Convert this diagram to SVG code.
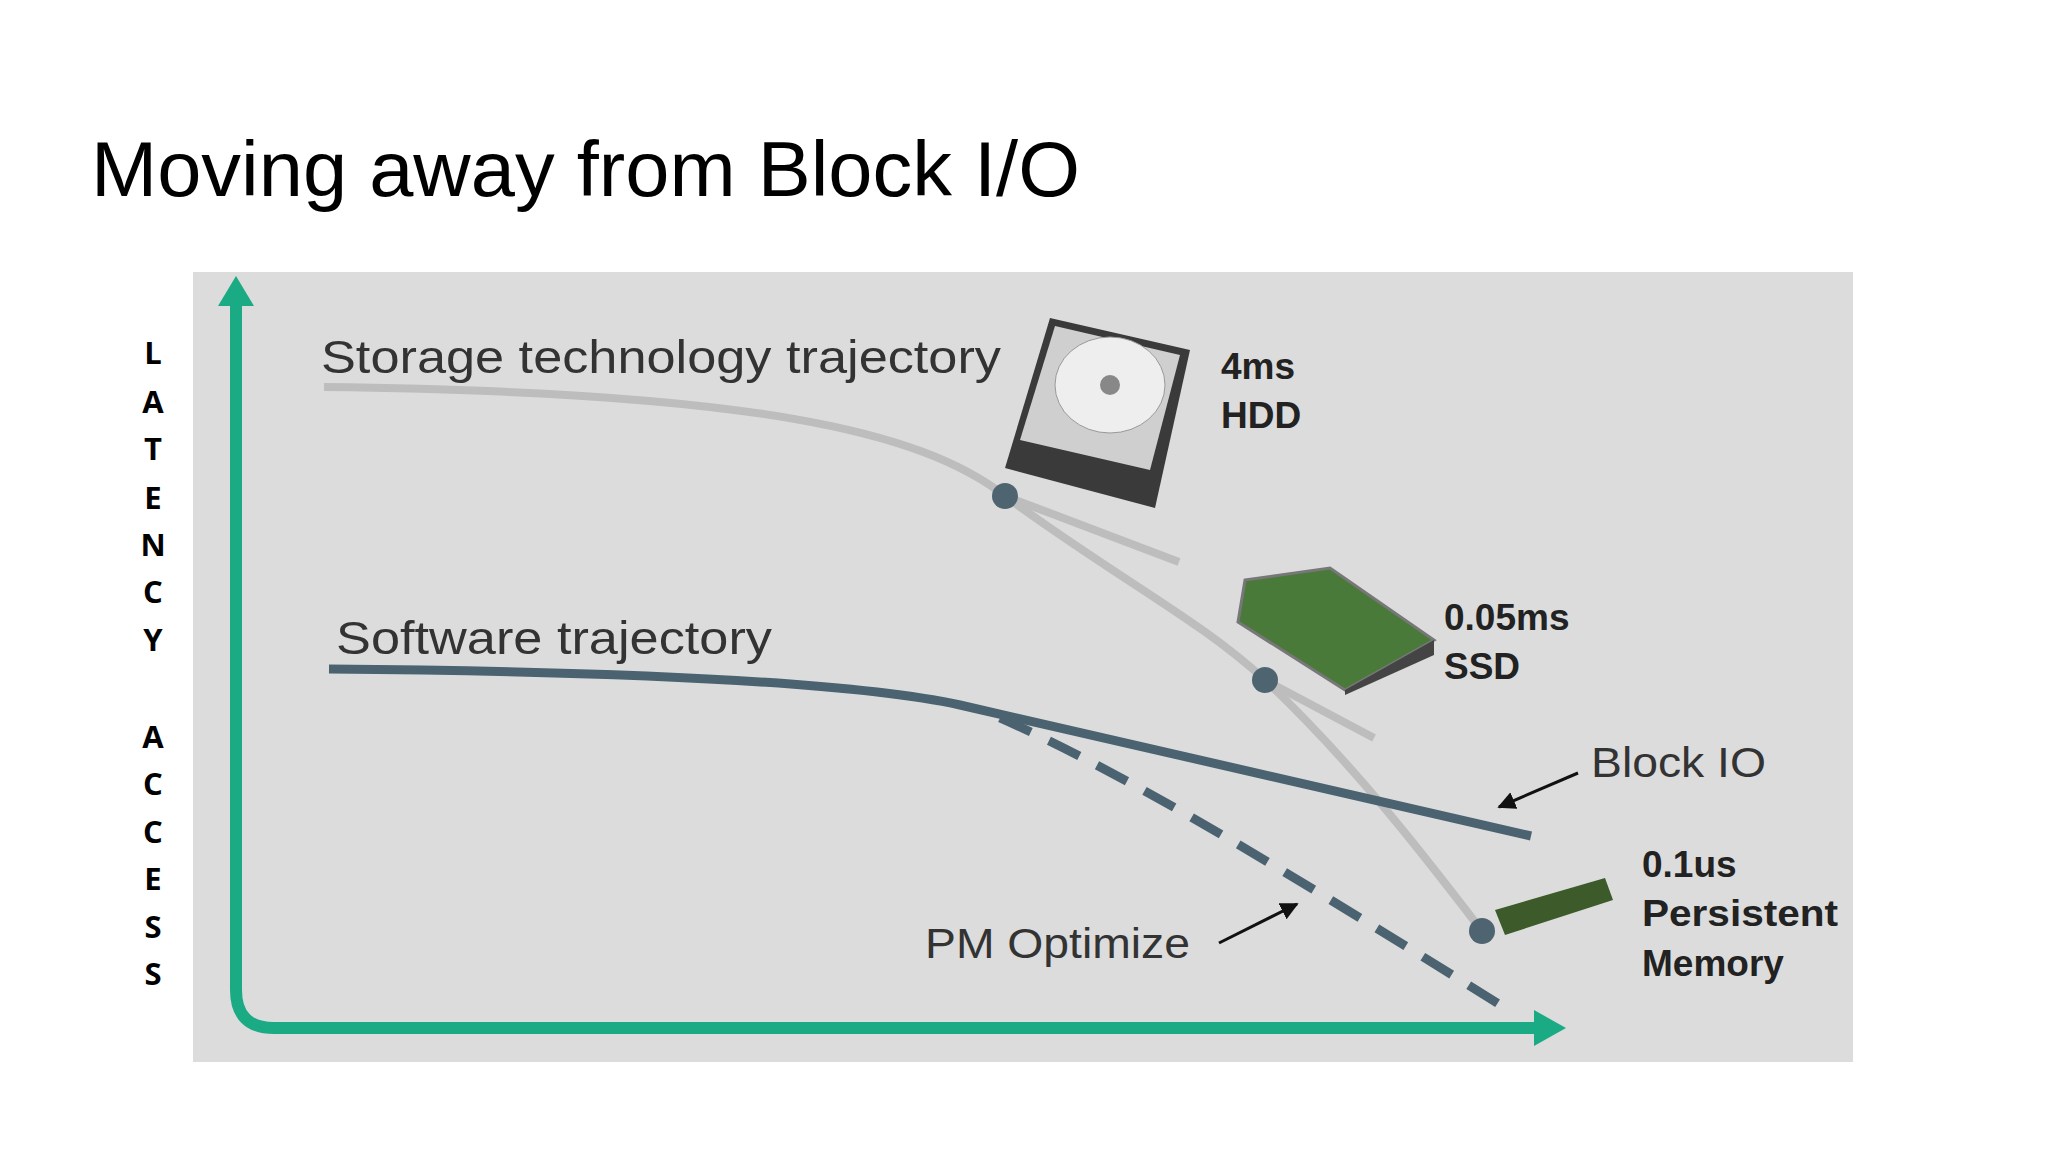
<svg xmlns="http://www.w3.org/2000/svg" width="2048" height="1152" viewBox="0 0 2048 1152">
<style>
.lbl{font-family:"Liberation Sans",Arial,sans-serif;fill:#333}
.b{font-family:"Liberation Sans",Arial,sans-serif;font-weight:bold;fill:#222;font-size:37px}
.v{font-family:"Open Sans","Liberation Sans",sans-serif;font-weight:bold;font-size:31px;fill:#000;text-anchor:middle}
.dot{fill:#4e6470}
</style>
<defs>
<marker id="ah" viewBox="0 0 10 10" refX="9" refY="5" markerWidth="6" markerHeight="6" orient="auto"><path d="M0,0L10,5L0,10z" fill="#111"/></marker>
</defs>
<rect width="2048" height="1152" fill="#fff"/>
<text x="91" y="196" font-family="Liberation Sans,Arial,sans-serif" font-size="78" fill="#000" textLength="989" lengthAdjust="spacingAndGlyphs">Moving away from Block I/O</text>
<rect x="193" y="272" width="1660" height="790" fill="#dcdcdc"/>
<g id="latency-label">
<text class="v" x="153" y="364">L</text><text class="v" x="153" y="413">A</text><text class="v" x="153" y="460">T</text><text class="v" x="153" y="509">E</text><text class="v" x="153" y="556">N</text><text class="v" x="153" y="603">C</text><text class="v" x="153" y="651">Y</text>
<text class="v" x="153" y="748">A</text><text class="v" x="153" y="795">C</text><text class="v" x="153" y="843">C</text><text class="v" x="153" y="890">E</text><text class="v" x="153" y="938">S</text><text class="v" x="153" y="985">S</text>
</g>
<g id="connectors">
<path d="M236,300 V990 Q236,1028 274,1028 H1540" fill="none" stroke="#1aab84" stroke-width="12"/>
<path d="M218,306 L236,276 L254,306z" fill="#1aab84"/>
<path d="M1534,1010 L1566,1028 L1534,1046z" fill="#1aab84"/>
<path d="M324,387 C750,392 920,430 1005,496 C1120,580 1200,620 1265,680 C1350,760 1420,850 1482,931" fill="none" stroke="#bdbdbd" stroke-width="8"/>
<path d="M1005,496 L1179,562" stroke="#bdbdbd" stroke-width="8"/>
<path d="M1265,680 L1374,738" stroke="#bdbdbd" stroke-width="8"/>
<path d="M329,669 C700,672 880,688 960,705 L1531,836" fill="none" stroke="#4b6271" stroke-width="9"/>
<path d="M1000,718 C1130,775 1300,880 1502,1006" fill="none" stroke="#4b6271" stroke-width="9" stroke-dasharray="34,20"/>
<path d="M1578,773 L1499,807" stroke="#111" stroke-width="3" marker-end="url(#ah)"/>
<path d="M1219,943 L1297,904" stroke="#111" stroke-width="3" marker-end="url(#ah)"/>
<circle class="dot" cx="1005" cy="496" r="13"/>
<circle class="dot" cx="1265" cy="680" r="13"/>
<circle class="dot" cx="1482" cy="931" r="13"/>
</g>
<g id="labels">
<text class="lbl" x="321" y="373" font-size="47" textLength="680" lengthAdjust="spacingAndGlyphs">Storage technology trajectory</text>
<text class="lbl" x="336" y="654" font-size="47" textLength="436" lengthAdjust="spacingAndGlyphs">Software trajectory</text>
<text class="lbl" x="1591" y="777" font-size="42" textLength="175" lengthAdjust="spacingAndGlyphs">Block IO</text>
<text class="lbl" x="925" y="958" font-size="42" textLength="265" lengthAdjust="spacingAndGlyphs">PM Optimize</text>
</g>
<g id="hdd">
<path d="M1050,318 L1190,350 L1155,508 L1005,468z" fill="#3a3a3a"/>
<path d="M1055,326 L1180,355 L1150,470 L1020,440z" fill="#cfcfcf"/>
<ellipse cx="1110" cy="385" rx="55" ry="48" fill="#eee" stroke="#999"/>
<circle cx="1110" cy="385" r="10" fill="#888"/>
<text class="b" x="1221" y="379">4ms</text><text class="b" x="1221" y="428">HDD</text>
</g>
<g id="ssd">
<path d="M1245,580 L1330,568 L1434,640 L1345,690 L1238,622z" fill="#4a7a3a" stroke="#777" stroke-width="3"/>
<path d="M1345,690 L1434,640 L1434,655 L1345,695z" fill="#444"/>
<text class="b" x="1444" y="630">0.05ms</text><text class="b" x="1444" y="679">SSD</text>
</g>
<g id="ram">
<path d="M1495,910 L1605,878 L1613,900 L1505,935z" fill="#3d5a2a"/>
<text class="b" x="1642" y="877">0.1us</text><text class="b" x="1642" y="926" textLength="196" lengthAdjust="spacingAndGlyphs">Persistent</text><text class="b" x="1642" y="976">Memory</text>
</g>
</svg>
